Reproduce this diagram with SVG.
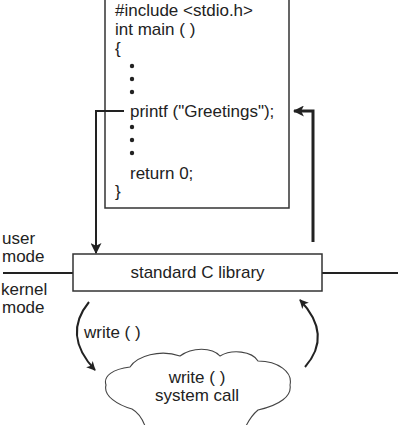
<svg xmlns="http://www.w3.org/2000/svg" width="401" height="425" viewBox="0 0 401 425">
<defs>
<style>
.t{font-family:"Liberation Sans",Arial,sans-serif;font-size:17px;fill:#222}
.box{fill:#fff;stroke:#333;stroke-width:1.5}
.ln{fill:none;stroke:#222}
</style>
<marker id="ah" viewBox="0 0 10 10" refX="9" refY="5" markerWidth="9" markerHeight="9" markerUnits="userSpaceOnUse" orient="auto">
<path d="M0,0 L10,5 L0,10 L2.5,5 Z" fill="#222"/>
</marker>
<marker id="ah2" viewBox="0 0 10 10" refX="9" refY="5" markerWidth="11" markerHeight="11" markerUnits="userSpaceOnUse" orient="auto">
<path d="M0,0 L10,5 L0,10 L2.5,5 Z" fill="#222"/>
</marker>
</defs>
<rect width="401" height="425" fill="#fff"/>
<g id="program">
<path class="box" d="M105,-2 V208 H289 V-2"/>
<text class="t" x="115" y="16">#include &lt;stdio.h&gt;</text>
<text class="t" x="115" y="35">int main ( )</text>
<text class="t" x="115" y="54">{</text>
<circle cx="132" cy="66" r="2.2" fill="#222"/>
<circle cx="132" cy="79" r="2.2" fill="#222"/>
<circle cx="132" cy="92" r="2.2" fill="#222"/>
<text class="t" x="130" y="117">printf ("Greetings");</text>
<circle cx="132" cy="127" r="2.2" fill="#222"/>
<circle cx="132" cy="140" r="2.2" fill="#222"/>
<circle cx="132" cy="153" r="2.2" fill="#222"/>
<text class="t" x="130" y="179">return 0;</text>
<text class="t" x="115" y="197">}</text>
</g>
<g id="modes">
<path class="ln" stroke-width="2" d="M3,273 H73 M322,273 H398"/>
<text class="t" x="2" y="244">user</text>
<text class="t" x="2" y="262">mode</text>
<text class="t" x="1" y="295">kernel</text>
<text class="t" x="2" y="313">mode</text>
</g>
<g id="library">
<rect class="box" x="73" y="254" width="249" height="37"/>
<text class="t" x="197.5" y="278" text-anchor="middle">standard C library</text>
</g>
<g id="syscall">
<path fill="#fff" stroke="#444" stroke-width="1.1" d="M145,426 C142,418 139,413 132,409 C118,405 103,396 106,385 C103,376 113,369 130,367 C137,356 160,349 180,356 C192,347 212,347 220,356 C232,349 252,351 258,361 C278,361 293,372 290,385 C292,396 280,405 258,410 C252,415 249,420 246,426"/>
<text class="t" x="197" y="383" text-anchor="middle">write ( )</text>
<text class="t" x="197" y="401" text-anchor="middle">system call</text>
</g>
<g id="connectors">
<path class="ln" stroke-width="2" d="M124,111 H96 V253" marker-end="url(#ah2)"/>
<path class="ln" stroke-width="3" d="M313,242 V111 H294" marker-end="url(#ah2)"/>
<path class="ln" stroke-width="2" d="M89,302 Q62,335 95,370" marker-end="url(#ah)"/>
<path class="ln" stroke-width="2" d="M305,367 Q333,335 300,300" marker-end="url(#ah)"/>
<text class="t" x="84" y="338">write ( )</text>
</g>
</svg>
